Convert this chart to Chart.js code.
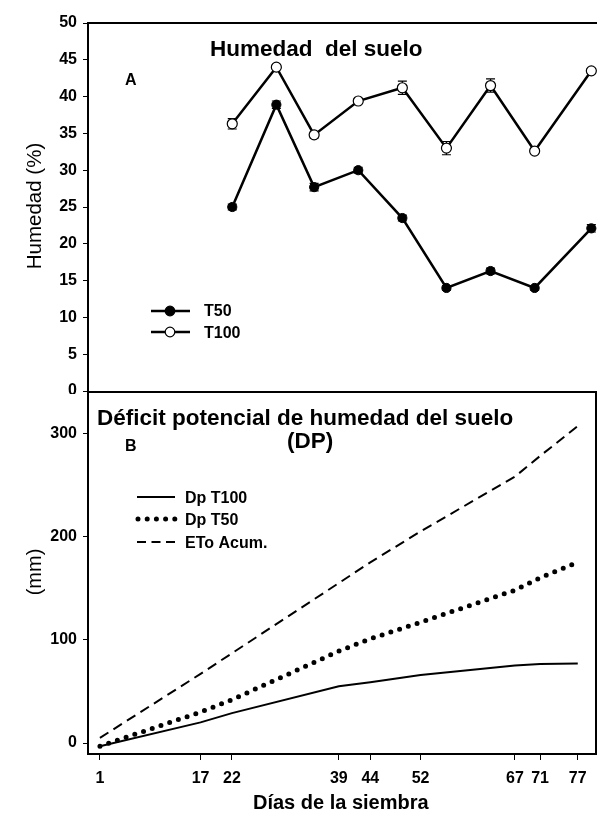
<!DOCTYPE html>
<html>
<head>
<meta charset="utf-8">
<script src="https://cdn.jsdelivr.net/npm/chart.js@4.4.0/dist/chart.umd.min.js"></script>
<style>
  html, body { margin: 0; padding: 0; background: #fff; }
  #wrap { position: relative; width: 597px; height: 818px; overflow: hidden; }
  canvas { position: absolute; left: 0; }
  #topChart { top: 0; }
  #botChart { top: 380px; }
</style>
</head>
<body>
<div id="wrap">
  <canvas id="topChart" width="597" height="394" style="width:597px;height:394px"></canvas>
  <canvas id="botChart" width="597" height="438" style="width:597px;height:438px"></canvas>
</div>
<script>
// panel A: humedad del suelo (%)
const moistDays = [22, 29, 35, 42, 49, 56, 63, 70, 79];
const t50 = [25.0, 38.9, 27.7, 30.0, 23.5, 14.0, 16.3, 14.0, 22.1];
const t50Err = [0.4, 0.5, 0.5, 0.4, 0.4, 0.3, 0.4, 0.3, 0.5];
const t100 = [36.3, 44.0, 34.8, 39.4, 41.2, 33.0, 41.5, 32.6, 43.5];
const t100Err = [0.7, 0.3, 0.4, 0.3, 0.9, 0.9, 0.9, 0.3, 0.3];

// panel B: deficit potencial (mm)
const dpDays = [1, 17, 22, 39, 44, 52, 67, 71, 77];
const dpT100 = [-3, 20, 29, 55, 59, 66, 75, 76.5, 77];
const dpT50 = [-3, 30, 42, 89, 101, 117, 148, 160, 175];
const etoAcum = [5, 67, 87, 155, 175, 205, 258, 278, 307];
const dpTicks = [0, 100, 200, 300];

const FONT = "'Liberation Sans', Arial, Helvetica, sans-serif";
Chart.defaults.font.family = FONT;
Chart.defaults.color = '#000';

const pts = (xs, ys) => xs.map((x, i) => ({ x, y: ys[i] }));
const tickFont = { family: FONT, size: 16, weight: 'bold' };

function noPad(s) {
  s.paddingTop = 0; s.paddingBottom = 0;
  s.paddingLeft = 0; s.paddingRight = 0;
}

function text(ctx, str, x, y, font, align) {
  ctx.font = font;
  ctx.textAlign = align || 'left';
  ctx.textBaseline = 'alphabetic';
  ctx.fillStyle = '#000';
  ctx.fillText(str, x, y);
}

function vText(ctx, str, x, y, font) {
  ctx.save();
  ctx.translate(x, y);
  ctx.rotate(-Math.PI / 2);
  text(ctx, str, 0, 0, font, 'center');
  ctx.restore();
}

// error bars drawn behind the markers
const errorBars = {
  id: 'errorBars',
  beforeDatasetsDraw(chart) {
    const { ctx, scales: { x, y } } = chart;
    ctx.save();
    ctx.strokeStyle = '#000';
    ctx.lineWidth = 1.2;
    chart.data.datasets.forEach(ds => {
      if (!ds.errors) return;
      ds.data.forEach((p, i) => {
        const e = ds.errors[i];
        const px = x.getPixelForValue(p.x);
        const y1 = y.getPixelForValue(p.y - e);
        const y2 = y.getPixelForValue(p.y + e);
        ctx.beginPath();
        ctx.moveTo(px, y1); ctx.lineTo(px, y2);
        ctx.moveTo(px - 4.5, y1); ctx.lineTo(px + 4.5, y1);
        ctx.moveTo(px - 4.5, y2); ctx.lineTo(px + 4.5, y2);
        ctx.stroke();
      });
    });
    ctx.restore();
  }
};

const topDecor = {
  id: 'topDecor',
  afterDraw(chart) {
    const { ctx, chartArea: a } = chart;
    ctx.save();
    ctx.strokeStyle = '#000';
    ctx.lineWidth = 2;
    ctx.beginPath();
    ctx.moveTo(a.left - 1, a.top);
    ctx.lineTo(a.right, a.top);
    ctx.stroke();

    text(ctx, 'Humedad  del suelo', 210, 56, 'bold 22.5px ' + FONT);
    text(ctx, 'A', 125, 85, 'bold 16px ' + FONT);
    vText(ctx, 'Humedad (%)', 41, 206, '20.5px ' + FONT);

    // legend
    ctx.lineWidth = 2.5;
    [[311, '#000', 'T50', 316], [332, '#fff', 'T100', 338]].forEach(([ly, fill, lab, by]) => {
      ctx.beginPath();
      ctx.moveTo(151, ly); ctx.lineTo(190, ly);
      ctx.stroke();
      ctx.beginPath();
      ctx.arc(170, ly, 4.8, 0, Math.PI * 2);
      ctx.fillStyle = fill;
      ctx.fill();
      ctx.lineWidth = 1.2;
      ctx.stroke();
      ctx.lineWidth = 2.5;
      text(ctx, lab, 204, by, 'bold 16px ' + FONT);
    });
    ctx.restore();
  }
};

const botDecor = {
  id: 'botDecor',
  afterDraw(chart) {
    const { ctx, chartArea: a } = chart;
    ctx.save();
    ctx.strokeStyle = '#000';
    ctx.lineWidth = 2;
    ctx.beginPath();
    ctx.moveTo(a.left - 1, a.top);
    ctx.lineTo(a.right, a.top);
    ctx.lineTo(a.right, a.bottom);
    ctx.stroke();

    const o = 380;
    text(ctx, 'Déficit potencial de humedad del suelo', 97, 425 - o, 'bold 22.5px ' + FONT);
    text(ctx, '(DP)', 287, 448 - o, 'bold 22.5px ' + FONT);
    text(ctx, 'B', 125, 451 - o, 'bold 16px ' + FONT);
    vText(ctx, '(mm)', 41, 572 - o, '20px ' + FONT);
    text(ctx, 'Días de la siembra', 253, 809 - o, 'bold 20px ' + FONT);

    // legend
    ctx.lineWidth = 2;
    ctx.beginPath();
    ctx.moveTo(137, 497 - o); ctx.lineTo(175, 497 - o);
    ctx.stroke();

    ctx.save();
    ctx.lineWidth = 5;
    ctx.lineCap = 'round';
    ctx.setLineDash([0, 9.2]);
    ctx.beginPath();
    ctx.moveTo(138, 519 - o); ctx.lineTo(175, 519 - o);
    ctx.stroke();
    ctx.restore();

    ctx.setLineDash([9, 5.5]);
    ctx.beginPath();
    ctx.moveTo(137, 542 - o); ctx.lineTo(175, 542 - o);
    ctx.stroke();
    ctx.setLineDash([]);

    text(ctx, 'Dp T100', 185, 503 - o, 'bold 16px ' + FONT);
    text(ctx, 'Dp T50', 185, 525 - o, 'bold 16px ' + FONT);
    text(ctx, 'ETo Acum.', 185, 548 - o, 'bold 16px ' + FONT);
    ctx.restore();
  }
};

new Chart(document.getElementById('topChart'), {
  type: 'line',
  data: {
    datasets: [
      {
        label: 'T50', data: pts(moistDays, t50), errors: t50Err,
        borderColor: '#000', borderWidth: 2.5,
        pointRadius: 4.6, pointBackgroundColor: '#000', pointBorderColor: '#000', pointBorderWidth: 1
      },
      {
        label: 'T100', data: pts(moistDays, t100), errors: t100Err,
        borderColor: '#000', borderWidth: 2.5,
        pointRadius: 5, pointBackgroundColor: '#fff', pointBorderColor: '#000', pointBorderWidth: 1.2
      }
    ]
  },
  options: {
    responsive: false, animation: false, devicePixelRatio: 1,
    layout: { padding: { left: 0, right: 0, top: 23, bottom: 3 }, autoPadding: false },
    plugins: { legend: { display: false }, tooltip: { enabled: false } },
    scales: {
      x: { type: 'linear', min: -0.9, max: 79.9, display: false },
      y: {
        min: 0, max: 50,
        ticks: { stepSize: 5, font: tickFont, color: '#000', padding: 6 },
        grid: { drawOnChartArea: false, tickLength: 5, color: '#000' },
        border: { display: true, color: '#000', width: 2 },
        afterFit(s) { s.width = 88; noPad(s); }
      }
    }
  },
  plugins: [errorBars, topDecor]
});

new Chart(document.getElementById('botChart'), {
  type: 'line',
  data: {
    datasets: [
      { label: 'Dp T100', data: pts(dpDays, dpT100), borderColor: '#000', borderWidth: 2, pointRadius: 0 },
      {
        label: 'Dp T50', data: pts(dpDays, dpT50), borderColor: '#000', borderWidth: 5, pointRadius: 0,
        borderDash: [0, 9.2], borderCapStyle: 'round'
      },
      {
        label: 'ETo Acum.', data: pts(dpDays, etoAcum), borderColor: '#000', borderWidth: 2, pointRadius: 0,
        borderDash: [10, 6]
      }
    ]
  },
  options: {
    responsive: false, animation: false, devicePixelRatio: 1,
    layout: { padding: { left: 0, right: 1, top: 12, bottom: 0 }, autoPadding: false },
    plugins: { legend: { display: false }, tooltip: { enabled: false } },
    scales: {
      x: {
        type: 'linear', min: -0.9, max: 79.9,
        afterBuildTicks(s) { s.ticks = dpDays.map(v => ({ value: v })); },
        ticks: { autoSkip: false, maxRotation: 0, font: tickFont, color: '#000', padding: 9 },
        grid: { drawOnChartArea: false, tickLength: 6, color: '#000' },
        border: { display: true, color: '#000', width: 2 },
        afterFit(s) { s.height = 64; noPad(s); }
      },
      y: {
        min: -10.6, max: 340,
        afterBuildTicks(s) { s.ticks = dpTicks.map(v => ({ value: v })); },
        ticks: { font: tickFont, color: '#000', padding: 6 },
        grid: { drawOnChartArea: false, tickLength: 5, color: '#000' },
        border: { display: true, color: '#000', width: 2 },
        afterFit(s) { s.width = 88; noPad(s); }
      }
    }
  },
  plugins: [botDecor]
});
</script>
</body>
</html>
